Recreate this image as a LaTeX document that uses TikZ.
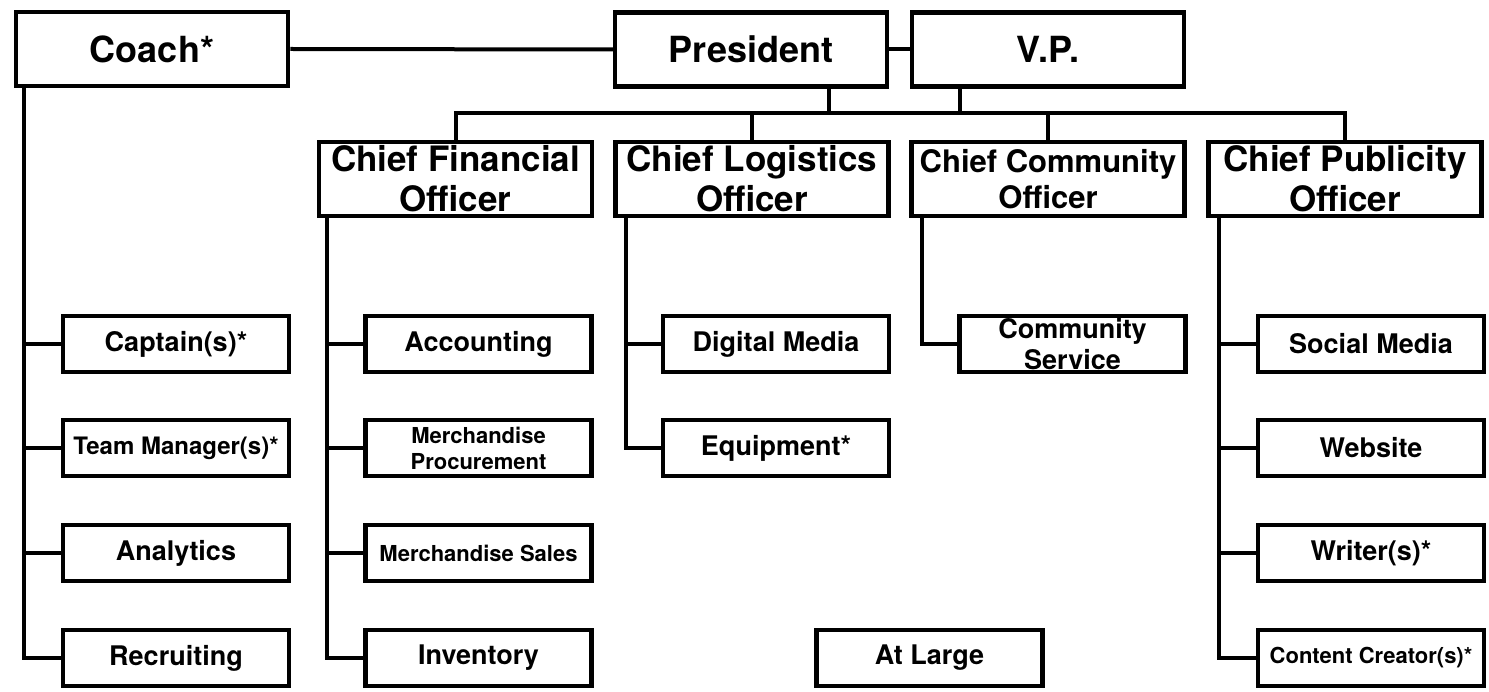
\documentclass[tikz,border=0pt]{standalone}
\usepackage{fontspec}
\setmainfont{TeX Gyre Heros}

\tikzset{
	box/.style={draw, line width=4.5, inner sep=0pt, align=center, minimum width=226, minimum height=56},
	headbox/.style={box, minimum width=272, minimum height=74, font=\fontsize{36}{40}\selectfont\bfseries},
	chiefbox/.style={box, minimum width=273, minimum height=74, font=\fontsize{35}{40}\selectfont\bfseries},
	leafbox/.style={box, font=\fontsize{27}{31}\selectfont\bfseries},
	smallbox/.style={box, font=\fontsize{22}{26}\selectfont\bfseries},
	link/.style={line width=4}
}

\begin{document}
\begin{tikzpicture}[x=1pt,y=-1pt]
	\useasboundingbox (0,0) rectangle (1489,692);
	% top row
	\node[headbox] (coach) at (152,49) {Coach*};
	\node[headbox] (pres) at (751,49.5) {President};
	\node[headbox] (vp) at (1048,49.5) {V.P.};
	% officers
	\node[chiefbox] (cfo) at (455.5,179) {Chief Financial\\Officer};
	\node[chiefbox] (clo) at (752,179) {Chief Logistics\\Officer};
	\node[chiefbox, font=\fontsize{31}{36}\selectfont\bfseries] (cco) at (1048,179) {Chief Community\\Officer};
	\node[chiefbox] (cpo) at (1345,179) {Chief Publicity\\Officer};
	% coach column
	\node[leafbox] (captain) at (176,344) {Captain(s)*};
	\node[smallbox, font=\fontsize{24}{28}\selectfont\bfseries] (teamman) at (176,448) {Team Manager(s)*};
	\node[leafbox] (analytics) at (176,553) {Analytics};
	\node[leafbox] (recruit) at (176,658) {Recruiting};
	% financial column
	\node[leafbox] (account) at (478.5,344) {Accounting};
	\node[smallbox] (procure) at (478.5,448) {Merchandise\\Procurement};
	\node[smallbox] (sales) at (478.5,553) {Merchandise Sales};
	\node[leafbox] (invent) at (478.5,658) {Inventory};
	% logistics column
	\node[leafbox] (digital) at (776,344) {Digital Media};
	\node[leafbox] (equip) at (776,448) {Equipment*};
	% community column
	\node[leafbox] (service) at (1072.5,344) {Community\\Service};
	\node[leafbox] (large) at (929.5,658) {At Large};
	% publicity column
	\node[leafbox] (social) at (1371,344) {Social Media};
	\node[leafbox] (website) at (1371,448) {Website};
	\node[leafbox] (writer) at (1371,553) {Writer(s)*};
	\node[smallbox] (content) at (1371,658) {Content Creator(s)*};

	\coordinate (bus) at (0,113);
	\draw[link] (coach.east) -- (pres.west);
	\draw[link] (pres.east) -- (vp.west);
	\draw[link] ([xshift=78]pres.south) -- ([xshift=78]pres.south |- bus);
	\draw[link] ([xshift=-88]vp.south) -- ([xshift=-88]vp.south |- bus);
	\draw[link] (cfo.north) -- (cfo.north |- bus) -- (cpo.north |- bus) -- (cpo.north);
	\foreach \n in {clo,cco} {
			\draw[link] (\n.north) -- (\n.north |- bus);
		}

	\foreach \n in {captain,teamman,analytics,recruit} {
			\draw[link] ([xshift=10]coach.south west) |- (\n.west);
		}
	\foreach \n in {account,procure,sales,invent} {
			\draw[link] ([xshift=10]cfo.south west) |- (\n.west);
		}
	\foreach \n in {digital,equip} {
			\draw[link] ([xshift=13]clo.south west) |- (\n.west);
		}
	\draw[link] ([xshift=13]cco.south west) |- (service.west);
	\foreach \n in {social,website,writer,content} {
			\draw[link] ([xshift=13]cpo.south west) |- (\n.west);
		}
\end{tikzpicture}
\end{document}
